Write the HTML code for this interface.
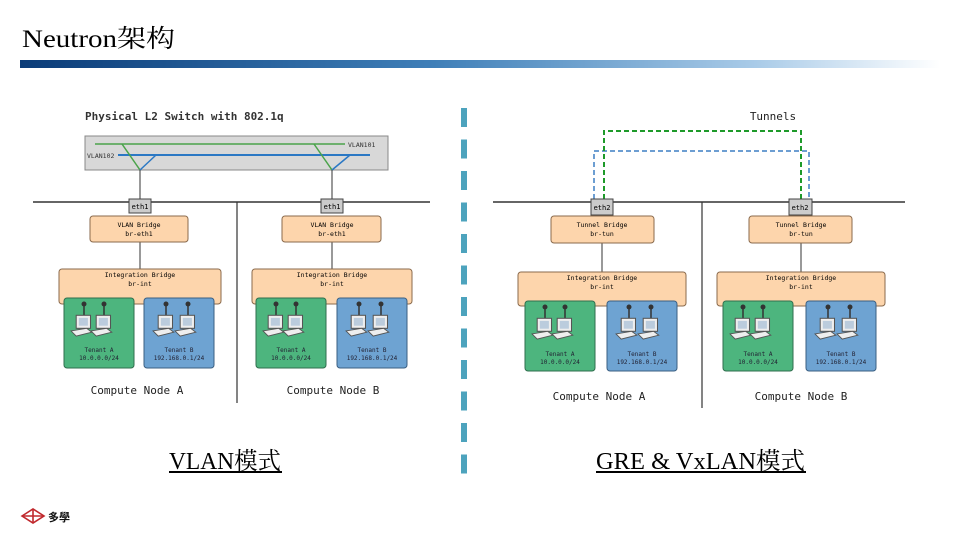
<!DOCTYPE html>
<html><head><meta charset="utf-8"><style>
html,body{margin:0;padding:0;background:#fff;}
svg{display:block;}
.m{font-family:"DejaVu Sans Mono","Liberation Mono",monospace;}
</style></head><body>
<svg width="960" height="540" viewBox="0 0 960 540" xmlns="http://www.w3.org/2000/svg">
<defs>
<linearGradient id="bar" x1="0" x2="1" y1="0" y2="0">
<stop offset="0" stop-color="#0b3c78"/><stop offset="0.45" stop-color="#3f7fb8"/><stop offset="0.8" stop-color="#a9cbe8"/><stop offset="1" stop-color="#ffffff"/>
</linearGradient>
<g id="pc">
<line x1="0" y1="0" x2="0" y2="14" stroke="#333" stroke-width="1.5"/>
<circle cx="0" cy="0" r="2.5" fill="#333"/>
<g transform="translate(0,10) scale(1.3)">
<rect x="-6" y="1" width="11" height="10" fill="#eee" stroke="#555" stroke-width="0.8"/>
<rect x="-4" y="3" width="7" height="6" fill="#bcd"/>
<polygon points="-10,13 2,11 6,14 -6,17" fill="#eee" stroke="#555" stroke-width="0.7"/>
</g>
</g>
<g id="tg">
<rect x="0" y="0" width="70" height="70" rx="3" fill="#4db57e" stroke="#2f6e4d" stroke-width="1"/>
<use href="#pc" x="20" y="6"/><use href="#pc" x="40" y="6"/>
</g>
<g id="tb">
<rect x="0" y="0" width="70" height="70" rx="3" fill="#6ea3d2" stroke="#3b5f82" stroke-width="1"/>
<use href="#pc" x="22" y="6"/><use href="#pc" x="44" y="6"/>
</g>
</defs>

<text x="22" y="47" font-family="Liberation Serif,'Noto Serif CJK SC',serif" font-size="25" textLength="153" lengthAdjust="spacingAndGlyphs">Neutron架构</text>
<rect x="20" y="60" width="920" height="8" fill="url(#bar)"/>

<!-- LEFT -->
<text class="m" x="85" y="120" font-size="11" font-weight="bold" fill="#333">Physical L2 Switch with 802.1q</text>
<rect x="85" y="136" width="303" height="34" fill="#d8d8d8" stroke="#888"/>
<line x1="95" y1="144" x2="345" y2="144" stroke="#4aa34a" stroke-width="1.5"/>
<line x1="118" y1="155" x2="370" y2="155" stroke="#2b78c4" stroke-width="2"/>
<text class="m" x="348" y="147" font-size="6.5" fill="#333">VLAN101</text>
<text class="m" x="87" y="158" font-size="6.5" fill="#333">VLAN102</text>
<line x1="122" y1="144" x2="140" y2="170" stroke="#4aa34a" stroke-width="1.5"/>
<line x1="140" y1="170" x2="156" y2="155" stroke="#2b78c4" stroke-width="1.5"/>
<line x1="314" y1="144" x2="332" y2="170" stroke="#4aa34a" stroke-width="1.5"/>
<line x1="332" y1="170" x2="350" y2="155" stroke="#2b78c4" stroke-width="1.5"/>
<line x1="140" y1="170" x2="140" y2="199" stroke="#333"/>
<line x1="332" y1="170" x2="332" y2="199" stroke="#333"/>
<line x1="33" y1="202" x2="430" y2="202" stroke="#333" stroke-width="1.5"/>
<line x1="237" y1="202" x2="237" y2="403" stroke="#333" stroke-width="1.2"/>
<rect x="129" y="199" width="22" height="14" fill="#ccc" stroke="#444"/>
<text class="m" x="140" y="209" font-size="7" text-anchor="middle">eth1</text>
<rect x="321" y="199" width="22" height="14" fill="#ccc" stroke="#444"/>
<text class="m" x="332" y="209" font-size="7" text-anchor="middle">eth1</text>
<line x1="140" y1="242" x2="140" y2="269" stroke="#333"/>
<line x1="332" y1="242" x2="332" y2="269" stroke="#333"/>
<rect x="90" y="216" width="98" height="26" rx="3" fill="#fdd5ac" stroke="#8a6a4c"/>
<text class="m" x="139" y="227" font-size="6.5" text-anchor="middle">VLAN Bridge</text>
<text class="m" x="139" y="236" font-size="6.5" text-anchor="middle">br-eth1</text>
<rect x="282" y="216" width="99" height="26" rx="3" fill="#fdd5ac" stroke="#8a6a4c"/>
<text class="m" x="332" y="227" font-size="6.5" text-anchor="middle">VLAN Bridge</text>
<text class="m" x="332" y="236" font-size="6.5" text-anchor="middle">br-eth1</text>
<rect x="59" y="269" width="162" height="35" rx="3" fill="#fdd5ac" stroke="#8a6a4c"/>
<text class="m" x="140" y="277" font-size="6.5" text-anchor="middle">Integration Bridge</text>
<text class="m" x="140" y="286" font-size="6.5" text-anchor="middle">br-int</text>
<rect x="252" y="269" width="160" height="35" rx="3" fill="#fdd5ac" stroke="#8a6a4c"/>
<text class="m" x="332" y="277" font-size="6.5" text-anchor="middle">Integration Bridge</text>
<text class="m" x="332" y="286" font-size="6.5" text-anchor="middle">br-int</text>
<use href="#tg" x="64" y="298"/><use href="#tb" x="144" y="298"/>
<use href="#tg" x="256" y="298"/><use href="#tb" x="337" y="298"/>
<g class="m" font-size="6" text-anchor="middle" fill="#223">
<text x="99" y="352">Tenant A</text><text x="99" y="360">10.0.0.0/24</text>
<text x="179" y="352">Tenant B</text><text x="179" y="360">192.168.0.1/24</text>
<text x="291" y="352">Tenant A</text><text x="291" y="360">10.0.0.0/24</text>
<text x="372" y="352">Tenant B</text><text x="372" y="360">192.168.0.1/24</text>
</g>
<text class="m" x="137" y="394" font-size="11" text-anchor="middle" fill="#222">Compute Node A</text>
<text class="m" x="333" y="394" font-size="11" text-anchor="middle" fill="#222">Compute Node B</text>

<!-- separator -->
<line x1="464" y1="108" x2="464" y2="475" stroke="#4da3bd" stroke-width="6" stroke-dasharray="19 12.5"/>

<!-- RIGHT -->
<text class="m" x="773" y="120" font-size="11" text-anchor="middle" fill="#222">Tunnels</text>
<polyline points="594,199 594,151 809,151 809,199" fill="none" stroke="#3d7fc4" stroke-width="1.5" stroke-dasharray="5 3"/>
<polyline points="604,199 604,131 801,131 801,199" fill="none" stroke="#1e9a2a" stroke-width="2" stroke-dasharray="5 3"/>
<line x1="493" y1="202" x2="905" y2="202" stroke="#333" stroke-width="1.5"/>
<line x1="702" y1="202" x2="702" y2="408" stroke="#333" stroke-width="1.2"/>
<rect x="591" y="199" width="22" height="16" fill="#ccc" stroke="#444"/>
<text class="m" x="602" y="210" font-size="7" text-anchor="middle">eth2</text>
<rect x="789" y="199" width="23" height="16" fill="#ccc" stroke="#444"/>
<text class="m" x="800" y="210" font-size="7" text-anchor="middle">eth2</text>
<line x1="602" y1="243" x2="602" y2="272" stroke="#333"/>
<line x1="801" y1="243" x2="801" y2="272" stroke="#333"/>
<rect x="551" y="216" width="103" height="27" rx="3" fill="#fdd5ac" stroke="#8a6a4c"/>
<text class="m" x="602" y="227" font-size="6.5" text-anchor="middle">Tunnel Bridge</text>
<text class="m" x="602" y="236" font-size="6.5" text-anchor="middle">br-tun</text>
<rect x="749" y="216" width="103" height="27" rx="3" fill="#fdd5ac" stroke="#8a6a4c"/>
<text class="m" x="801" y="227" font-size="6.5" text-anchor="middle">Tunnel Bridge</text>
<text class="m" x="801" y="236" font-size="6.5" text-anchor="middle">br-tun</text>
<rect x="518" y="272" width="168" height="34" rx="3" fill="#fdd5ac" stroke="#8a6a4c"/>
<text class="m" x="602" y="280" font-size="6.5" text-anchor="middle">Integration Bridge</text>
<text class="m" x="602" y="289" font-size="6.5" text-anchor="middle">br-int</text>
<rect x="717" y="272" width="168" height="34" rx="3" fill="#fdd5ac" stroke="#8a6a4c"/>
<text class="m" x="801" y="280" font-size="6.5" text-anchor="middle">Integration Bridge</text>
<text class="m" x="801" y="289" font-size="6.5" text-anchor="middle">br-int</text>
<use href="#tg" x="525" y="301"/><use href="#tb" x="607" y="301"/>
<use href="#tg" x="723" y="301"/><use href="#tb" x="806" y="301"/>
<g class="m" font-size="6" text-anchor="middle" fill="#223">
<text x="560" y="356">Tenant A</text><text x="560" y="364">10.0.0.0/24</text>
<text x="642" y="356">Tenant B</text><text x="642" y="364">192.168.0.1/24</text>
<text x="758" y="356">Tenant A</text><text x="758" y="364">10.0.0.0/24</text>
<text x="841" y="356">Tenant B</text><text x="841" y="364">192.168.0.1/24</text>
</g>
<text class="m" x="599" y="400" font-size="11" text-anchor="middle" fill="#222">Compute Node A</text>
<text class="m" x="801" y="400" font-size="11" text-anchor="middle" fill="#222">Compute Node B</text>

<!-- bottom labels -->
<text x="169" y="469" font-family="Liberation Serif,'Noto Serif CJK SC',serif" font-size="24" textLength="112" lengthAdjust="spacingAndGlyphs">VLAN模式</text>
<rect x="169" y="471" width="113" height="2" fill="#000"/>
<text x="596" y="469" font-family="Liberation Serif,'Noto Serif CJK SC',serif" font-size="24" textLength="209" lengthAdjust="spacingAndGlyphs">GRE &amp; VxLAN模式</text>
<rect x="596" y="471" width="210" height="2" fill="#000"/>

<!-- logo -->
<g transform="translate(33,516)" stroke="#c0282d" stroke-width="1.6" fill="none">
<polygon points="-11,0 0,-7 11,0 0,7"/>
<line x1="-11" y1="0" x2="11" y2="0"/><line x1="0" y1="-7" x2="0" y2="7"/>
</g>
<text x="48" y="521" font-family="'Noto Sans CJK TC',sans-serif" font-size="11" font-weight="bold" fill="#111">多學</text>
</svg>
</body></html>
